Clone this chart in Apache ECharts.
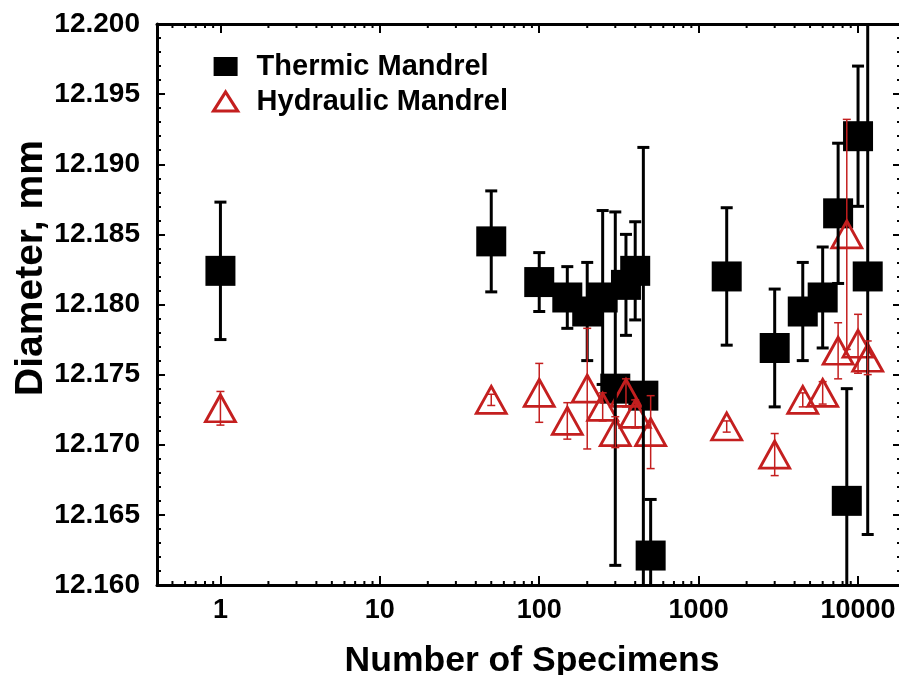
<!DOCTYPE html>
<html>
<head>
<meta charset="utf-8">
<script src="https://cdn.jsdelivr.net/npm/echarts@6/dist/echarts.min.js"></script>
<style>
  html, body { margin: 0; padding: 0; background: #ffffff; overflow: hidden; }
  #chart { width: 899px; height: 675px; }
</style>
</head>
<body>
<div id="chart"></div>
<script>
// Specimen counts (log axis) and measured diameters with their spread
const thermicSpecimens = [1, 50, 100, 150, 200, 250, 300, 350, 400, 450, 500, 1500, 3000, 4500, 6000, 7500, 8500, 10000, 11500];
const thermicDiameter  = [12.1824, 12.1845, 12.1816, 12.1805, 12.1795, 12.1805, 12.1740, 12.1814, 12.1824, 12.1735, 12.1621, 12.1820, 12.1769, 12.1795, 12.1805, 12.1865, 12.1660, 12.1920, 12.1820];
const thermicError     = [0.0049, 0.0036, 0.0021, 0.0022, 0.0035, 0.0062, 0.0126, 0.0036, 0.0035, 0.0177, 0.0040, 0.0049, 0.0042, 0.0035, 0.0036, 0.0050, 0.0080, 0.0050, 0.0184];

const hydraulicSpecimens = [1, 50, 100, 150, 200, 250, 300, 350, 400, 500, 1500, 3000, 4500, 6000, 7500, 8500, 10000, 11500];
const hydraulicDiameter  = [12.1726, 12.1732, 12.1737, 12.1717, 12.1740, 12.1727, 12.1709, 12.1737, 12.1722, 12.1709, 12.1713, 12.1693, 12.1732, 12.1737, 12.1767, 12.1850, 12.1772, 12.1762];
const hydraulicError     = [0.0012, 0.0004, 0.0021, 0.0013, 0.0043, 0.0010, 0.0011, 0.0010, 0.0010, 0.0026, 0.0004, 0.0015, 0.0005, 0.0008, 0.0020, 0.0082, 0.0021, 0.0012];

const xTickLabels = ['1', '10', '100', '1000', '10000'];
const yTickLabels = ['12.160', '12.165', '12.170', '12.175', '12.180', '12.185', '12.190', '12.195', '12.200'];

const X_MIN = 0.4, X_MAX = 18600;
const Y_MIN = 12.160, Y_MAX = 12.200, Y_STEP = 0.005;

const RED = '#c41f1f';
const BOLD_FONT = '"Liberation Sans", Arial, sans-serif';

// minor log ticks 2..9 within each decade of the x range
const minorLogTicks = [];
for (let p = -1; p <= 4; p++) {
  for (let m = 2; m <= 9; m++) {
    const v = m * Math.pow(10, p);
    if (v > X_MIN && v < X_MAX) minorLogTicks.push(v);
  }
}

function errorBars(xs, ys, errs, color, width, capHalf, z) {
  return {
    type: 'custom',
    clip: true,
    silent: true,
    z: z,
    data: xs.map((x, i) => [x, ys[i], errs[i]]),
    encode: { x: 0, y: 1 },
    renderItem(params, api) {
      const x = api.value(0), y = api.value(1), e = api.value(2);
      const lo = api.coord([x, y - e]);
      const hi = api.coord([x, y + e]);
      const st = { stroke: color, lineWidth: width };
      return {
        type: 'group',
        children: [
          { type: 'line', shape: { x1: lo[0], y1: lo[1], x2: hi[0], y2: hi[1] }, style: st },
          { type: 'line', shape: { x1: hi[0] - capHalf, y1: hi[1], x2: hi[0] + capHalf, y2: hi[1] }, style: st },
          { type: 'line', shape: { x1: lo[0] - capHalf, y1: lo[1], x2: lo[0] + capHalf, y2: lo[1] }, style: st }
        ]
      };
    }
  };
}

const isDecade = v => Math.abs(Math.log10(v) - Math.round(Math.log10(v))) < 1e-6;
const decadeLabel = v => {
  if (!isDecade(v)) return '';
  const k = Math.round(Math.log10(v));
  return xTickLabels[k] !== undefined ? xTickLabels[k] : '';
};

const logAxisBase = {
  type: 'log',
  logBase: 10,
  min: X_MIN,
  max: X_MAX,
  axisLine: { show: true, onZero: false, lineStyle: { color: '#000', width: 3 } },
  axisTick: { show: true, inside: true, length: 9, lineStyle: { color: '#000', width: 2 } },
  splitLine: { show: false },
  minorTick: { show: false },
  minorSplitLine: { show: false }
};

const valueAxisBase = {
  type: 'value',
  min: Y_MIN,
  max: Y_MAX,
  interval: Y_STEP,
  axisLine: { show: true, onZero: false, lineStyle: { color: '#000', width: 3 } },
  axisTick: { show: true, inside: true, length: 8, lineStyle: { color: '#000', width: 2 } },
  minorTick: { show: true, splitNumber: 5, length: 4, lineStyle: { color: '#000', width: 2 } },
  splitLine: { show: false }
};

const chart = echarts.init(document.getElementById('chart'), null, { renderer: 'canvas' });

chart.setOption({
  backgroundColor: '#ffffff',
  animation: false,
  grid: { left: 157, top: 24, width: 744, height: 561, containLabel: false, outerBoundsMode: 'none' },
  legend: {
    orient: 'vertical',
    left: 207,
    top: 47,
    itemWidth: 24,
    itemHeight: 19,
    itemGap: 6,
    selectedMode: false,
    textStyle: { fontFamily: BOLD_FONT, fontWeight: 'bold', fontSize: 29, color: '#000', padding: [0, 0, 0, 14] },
    data: [
      { name: 'Thermic Mandrel', icon: 'rect' },
      { name: 'Hydraulic Mandrel', icon: 'triangle', itemStyle: { borderWidth: 3.2 } }
    ]
  },
  graphic: [
    {
      type: 'text',
      x: 31, y: 268,
      rotation: Math.PI / 2,
      style: {
        text: 'Diameter, mm',
        fontFamily: BOLD_FONT, fontWeight: 'bold', fontSize: 39,
        fill: '#000', align: 'center', verticalAlign: 'middle'
      }
    },
    {
      type: 'text',
      x: 532, y: 661,
      style: {
        text: 'Number of Specimens',
        fontFamily: BOLD_FONT, fontWeight: 'bold', fontSize: 35.5,
        fill: '#000', align: 'center', verticalAlign: 'middle'
      }
    }
  ],
  xAxis: [
    Object.assign({}, logAxisBase, {
      position: 'bottom',
      axisLabel: {
        show: true, margin: 12, color: '#000',
        fontFamily: BOLD_FONT, fontWeight: 'bold', fontSize: 27,
        formatter: decadeLabel
      }
    }),
    Object.assign({}, logAxisBase, {
      position: 'top',
      axisLabel: { show: false }
    })
  ],
  yAxis: [
    Object.assign({}, valueAxisBase, {
      position: 'left',
      axisLabel: {
        show: true, margin: 17, color: '#000',
        fontFamily: BOLD_FONT, fontWeight: 'bold', fontSize: 28,
        formatter: (v) => yTickLabels[Math.round((v - Y_MIN) / Y_STEP)] || ''
      }
    }),
    Object.assign({}, valueAxisBase, {
      position: 'right',
      axisLabel: { show: false }
    })
  ],
  series: [
    {
      name: 'Thermic Mandrel',
      type: 'scatter',
      symbol: 'rect',
      symbolSize: 30,
      z: 2,
      itemStyle: { color: '#000', opacity: 1 },
      data: thermicSpecimens.map((n, i) => [n, thermicDiameter[i]])
    },
    {
      name: 'Hydraulic Mandrel',
      type: 'scatter',
      symbol: 'triangle',
      symbolSize: [30, 27],
      z: 3,
      itemStyle: { color: 'rgba(255,255,255,0)', borderColor: RED, borderWidth: 2.8, opacity: 1 },
      data: hydraulicSpecimens.map((n, i) => [n, hydraulicDiameter[i]])
    },
    errorBars(thermicSpecimens, thermicDiameter, thermicError, '#000', 3, 6, 4),
    errorBars(hydraulicSpecimens, hydraulicDiameter, hydraulicError, RED, 1.5, 4, 5),
    {
      // minor ticks of the logarithmic axis, on the bottom and top frame
      type: 'custom',
      silent: true,
      clip: false,
      z: 6,
      data: minorLogTicks.map(v => [v, Y_MIN]),
      encode: { x: 0, y: 1 },
      renderItem(params, api) {
        const v = api.value(0);
        const b = api.coord([v, Y_MIN]);
        const t = api.coord([v, Y_MAX]);
        const st = { stroke: '#000', lineWidth: 2 };
        return {
          type: 'group',
          children: [
            { type: 'line', shape: { x1: b[0], y1: b[1], x2: b[0], y2: b[1] - 4 }, style: st },
            { type: 'line', shape: { x1: t[0], y1: t[1], x2: t[0], y2: t[1] + 4 }, style: st }
          ]
        };
      }
    }
  ]
});
</script>
</body>
</html>
